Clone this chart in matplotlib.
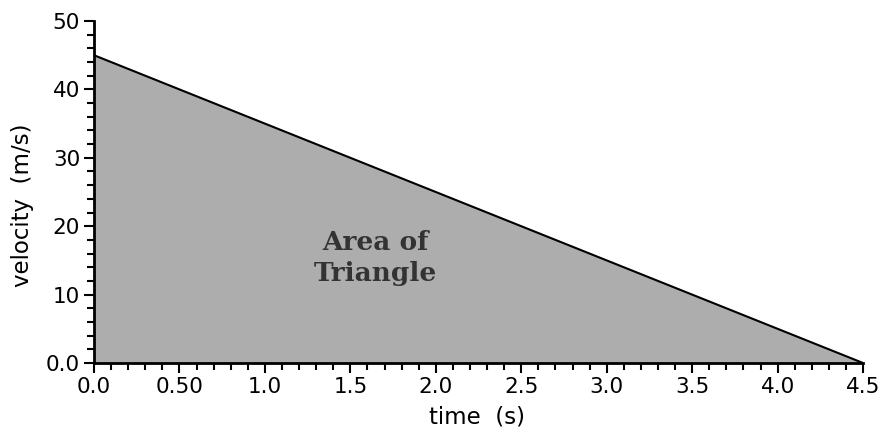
import numpy as np
import matplotlib.pyplot as plt
from matplotlib.ticker import MultipleLocator

# velocity vs time for a uniformly decelerating object
time_s = [0.0, 4.5]
velocity = [45.0, 0.0]

x_ticks = [0.0, 0.5, 1.0, 1.5, 2.0, 2.5, 3.0, 3.5, 4.0, 4.5]
x_tick_labels = ["0.0", "0.50", "1.0", "1.5", "2.0", "2.5", "3.0", "3.5", "4.0", "4.5"]
y_ticks = [0, 10, 20, 30, 40, 50]
y_tick_labels = ["0.0", "10", "20", "30", "40", "50"]

fig = plt.figure(figsize=(8.84, 4.34), dpi=100)
ax = fig.add_axes([0.1063, 0.1636, 0.8700, 0.7880])

ax.fill_between(time_s, velocity, 0, color="#adadad", linewidth=0)
ax.plot(time_s, velocity, color="black", linewidth=1.5)

ax.set_xlim(0, 4.5)
ax.set_ylim(0, 50)

ax.set_xticks(x_ticks)
ax.set_xticklabels(x_tick_labels)
ax.set_yticks(y_ticks)
ax.set_yticklabels(y_tick_labels)
ax.xaxis.set_minor_locator(MultipleLocator(0.1))
ax.yaxis.set_minor_locator(MultipleLocator(2))

ax.tick_params(which="major", direction="out", length=7, width=1.5,
               labelsize=15.5, pad=3)
ax.tick_params(which="minor", direction="out", length=5, width=1.5)

for side in ["top", "right"]:
    ax.spines[side].set_visible(False)
for side in ["left", "bottom"]:
    ax.spines[side].set_linewidth(2)

ax.set_xlabel("time  (s)", fontsize=16.5)
ax.set_ylabel("velocity  (m/s)", fontsize=16.5)
ax.xaxis.set_label_coords(0.498, -0.125)
ax.yaxis.set_label_coords(-0.078, 0.46)

ax.text(1.645, 15.4, "Area of\nTriangle", ha="center", va="center",
        fontsize=19, fontweight="bold", family="DejaVu Serif",
        color="#333333", linespacing=1.3)

fig.savefig("out.png", dpi=100)
